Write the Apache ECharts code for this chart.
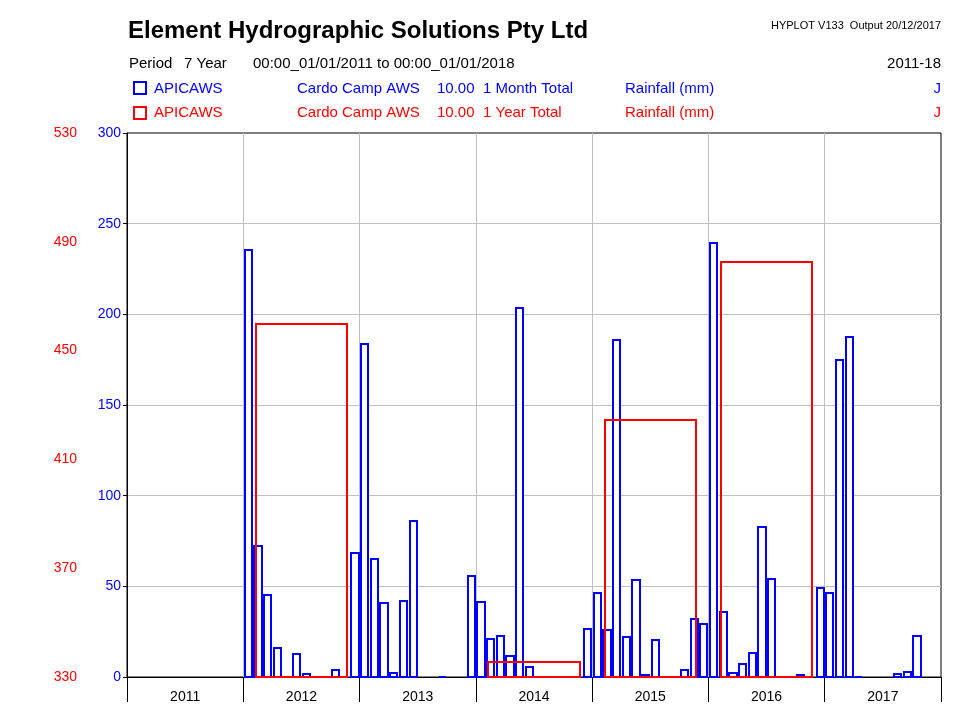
<!DOCTYPE html>
<html>
<head>
<meta charset="utf-8">
<script src="https://cdn.jsdelivr.net/npm/echarts@6/dist/echarts.min.js"></script>
<style>
html,body{margin:0;padding:0;background:#fff;}
#chart{width:968px;height:726px;}
</style>
</head>
<body>
<div id="chart"></div>
<script>
// ---- data ----
const years = ['2011', '2012', '2013', '2014', '2015', '2016', '2017'];
// monthly totals (mm), Jan..Dec
const rain2011 = [null, null, null, null, null, null, null, null, null, null, null, null];
const rain2012 = [236, 73, 46, 16.7, 0, 13.4, 2.4, 0, 0, 4.6, 0, 69];
const rain2013 = [184, 65.8, 41.5, 2.9, 42.5, 86.8, 0, 0, 0.4, 0, 0, 56.3];
const rain2014 = [41.9, 21.7, 23.3, 12.1, 204.2, 6.1, 0, 0, 0, 0, 0, 26.8];
const rain2015 = [47, 26.5, 186.4, 22.8, 54.2, 1.8, 21, 0, 0, 4.4, 32.7, 30];
const rain2016 = [240.1, 36.4, 2.9, 7.9, 14, 83.1, 54.4, 0.8, 0, 1.6, 0, 49.8];
const rain2017 = [47, 175.4, 188.3, 0.3, 0, 0, 0, 2, 3.3, 23.2, null, null];
const monthlyByYear = [rain2011, rain2012, rain2013, rain2014, rain2015, rain2016, rain2017];
// yearly totals (mm), on the red scale
const yearTotals = [null, 460, null, 336, 425, 483, null];
const blueTicks = [0, 50, 100, 150, 200, 250, 300];
const redTicks = [330, 370, 410, 450, 490, 530];

const monthData = [];
monthlyByYear.forEach((arr, yi) => arr.forEach((v, m) => { if (v !== null) monthData.push([yi, m, v]); }));
const yearData = [];
yearTotals.forEach((v, yi) => { if (v !== null) yearData.push([yi, v]); });

const FONT = '"Liberation Sans", Arial, sans-serif';
const BLUE = '#0000ff', RED = '#ff0000';

function txt(text, x, y, color, size, align, bold) {
  return {
    type: 'text',
    style: {
      text: text, x: x, y: y, fill: color,
      font: (bold ? 'bold ' : '') + size + 'px ' + FONT,
      textAlign: align || 'left', align: align || 'left',
      textVerticalAlign: 'middle', verticalAlign: 'middle'
    }
  };
}

const graphics = [
  txt('Element Hydrographic Solutions Pty Ltd', 128, 31, '#000', 24, 'left', true),
  txt('HYPLOT V133  Output 20/12/2017', 941, 26, '#000', 11, 'right'),
  txt('Period', 129, 63.5, '#000', 15),
  txt('7 Year', 184, 63.5, '#000', 15),
  txt('00:00_01/01/2011 to 00:00_01/01/2018', 253, 63.5, '#000', 15),
  txt('2011-18', 941, 63.5, '#000', 15, 'right'),
  txt('APICAWS', 154, 88.5, BLUE, 15),
  txt('Cardo Camp AWS', 297, 88.5, BLUE, 15),
  txt('10.00', 437, 88.5, BLUE, 15),
  txt('1 Month Total', 483, 88.5, BLUE, 15),
  txt('Rainfall (mm)', 625, 88.5, BLUE, 15),
  txt('J', 941, 88.5, BLUE, 15, 'right'),
  txt('APICAWS', 154, 113, RED, 15),
  txt('Cardo Camp AWS', 297, 113, RED, 15),
  txt('10.00', 437, 113, RED, 15),
  txt('1 Year Total', 483, 113, RED, 15),
  txt('Rainfall (mm)', 625, 113, RED, 15),
  txt('J', 941, 113, RED, 15, 'right'),
  { type: 'rect', shape: { x: 134, y: 82, width: 12, height: 12 }, style: { fill: 'none', stroke: BLUE, lineWidth: 2 } },
  { type: 'rect', shape: { x: 134, y: 107, width: 12, height: 12 }, style: { fill: 'none', stroke: RED, lineWidth: 2 } }
];

const chart = echarts.init(document.getElementById('chart'), null, { renderer: 'canvas' });
chart.setOption({
  animation: false,
  backgroundColor: '#fff',
  textStyle: { fontFamily: FONT },
  graphic: graphics,
  grid: { left: 127, right: 27, top: 133, bottom: 49, show: true, borderColor: '#000', borderWidth: 1, backgroundColor: 'transparent' },
  xAxis: {
    type: 'category',
    data: years,
    boundaryGap: true,
    axisLine: { show: true, lineStyle: { color: '#000', width: 1 } },
    axisTick: { show: true, length: 25, interval: 0, lineStyle: { color: '#000', width: 1 } },
    axisLabel: { color: '#000', fontSize: 14, fontFamily: FONT, margin: 13, interval: 0 },
    splitLine: { show: true, interval: 0, showMinLine: false, showMaxLine: false, lineStyle: { color: '#c0c0c0', width: 1 } }
  },
  yAxis: [
    {
      type: 'value', min: 0, max: 300, interval: 50, position: 'left',
      axisLine: { show: true, lineStyle: { color: '#000', width: 1 } },
      axisTick: { show: true, length: 4, lineStyle: { color: '#000' } },
      axisLabel: { color: BLUE, fontSize: 14, fontFamily: FONT, margin: 6, customValues: blueTicks },
      splitLine: { show: true, showMinLine: false, showMaxLine: false, lineStyle: { color: '#c0c0c0', width: 1 } }
    },
    {
      type: 'value', min: 330, max: 530, position: 'left', offset: 44,
      axisLine: { show: false },
      axisTick: { show: false },
      axisLabel: { color: RED, fontSize: 14, fontFamily: FONT, margin: 6, customValues: redTicks },
      splitLine: { show: false }
    }
  ],
  series: [
    {
      type: 'custom',
      name: 'APICAWS 1 Month Total',
      xAxisIndex: 0, yAxisIndex: 0,
      encode: { x: 0, y: 2 },
      data: monthData,
      clip: false,
      z: 3,
      renderItem: function (params, api) {
        const yi = api.value(0), m = api.value(1), v = api.value(2);
        if (!v) return null;
        const bw = api.size([1, 0])[0];
        const top = api.coord([yi, v]);
        const base = api.coord([yi, 0]);
        const mw = bw / 12;
        const xs = top[0] - bw / 2 + m * mw;
        const x0 = Math.round(xs + 1.5);
        const x1 = Math.round(xs + mw - 1);
        const b = Math.round(base[1]);
        const y = Math.min(Math.round(top[1] + 1), b);
        return {
          type: 'rect',
          shape: { x: x0, y: y, width: x1 - x0, height: b - y },
          style: { fill: '#fff', stroke: BLUE, lineWidth: 2 }
        };
      }
    },
    {
      type: 'custom',
      name: 'APICAWS 1 Year Total',
      xAxisIndex: 0, yAxisIndex: 1,
      encode: { x: 0, y: 1 },
      data: yearData,
      clip: false,
      z: 4,
      renderItem: function (params, api) {
        const yi = api.value(0), v = api.value(1);
        const bw = api.size([1, 0])[0];
        const top = api.coord([yi, v]);
        const base = api.coord([yi, 330]);
        const x0 = Math.round(top[0] - 0.4 * bw + 1);
        const x1 = Math.round(top[0] + 0.4 * bw - 1);
        const y = Math.round(top[1] + 1);
        const b = Math.round(base[1]);
        return {
          type: 'rect',
          shape: { x: x0, y: y, width: x1 - x0, height: b - y },
          style: { fill: 'none', stroke: RED, lineWidth: 2 }
        };
      }
    }
  ]
});
</script>
</body>
</html>
